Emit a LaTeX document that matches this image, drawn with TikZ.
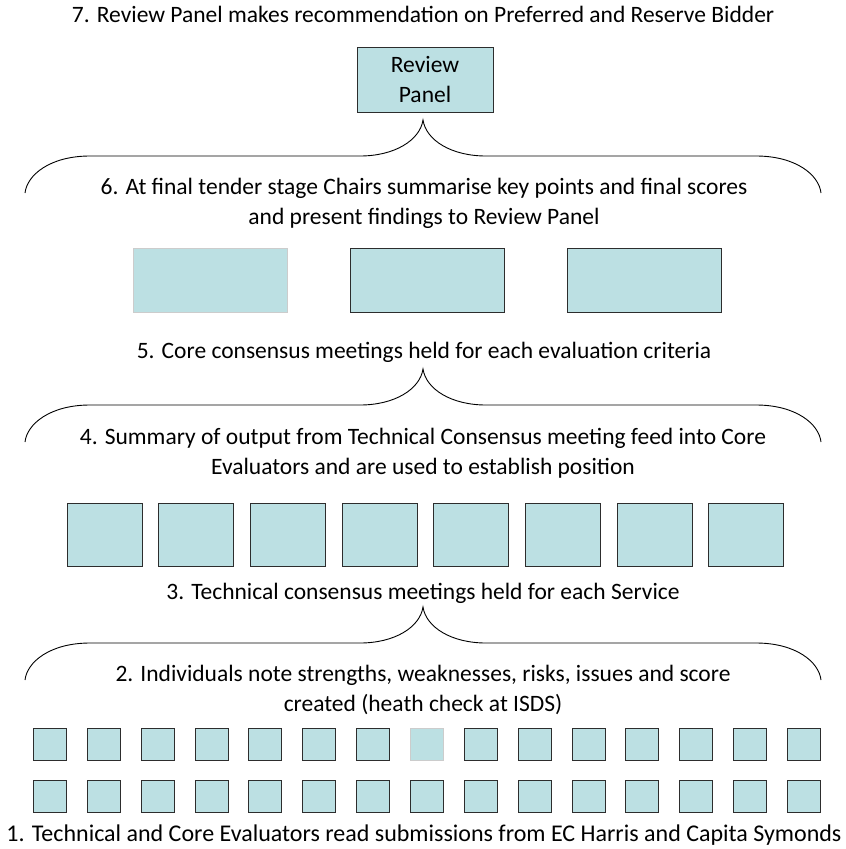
\documentclass[tikz,border=0pt]{standalone}
\usepackage{fontspec}
\setmainfont{Carlito}
\usetikzlibrary{positioning}
\definecolor{boxteal}{RGB}{188,224,227}
\definecolor{boxline}{RGB}{45,45,45}

\begin{document}
\begin{tikzpicture}[x=1pt, y=-1pt,
	every node/.style={font=\fontsize{23.5}{30}\selectfont},
	tealbox/.style={draw=boxline, line width=1pt, fill=boxteal, inner sep=0pt},
	faintbox/.style={draw=gray!40, line width=0.8pt, fill=boxteal, inner sep=0pt},
	brace line/.style={line width=0.9pt}]
	\useasboundingbox (0,0) rectangle (846,849);

	% step texts
	\node[align=center] (stepseven) at (423,14) {7. Review Panel makes recommendation on Preferred and Reserve Bidder};
	\node[align=center] (stepsix) at (424,203) {6. At final tender stage Chairs summarise key points and final scores\\and present findings to Review Panel};
	\node[align=center] (stepfive) at (424,352) {5. Core consensus meetings held for each evaluation criteria};
	\node[align=center] (stepfour) at (423,453) {4. Summary of output from Technical Consensus meeting feed into Core\\Evaluators and are used to establish position};
	\node[align=center] (stepthree) at (423,593) {3. Technical consensus meetings held for each Service};
	\node[align=center] (steptwo) at (423,689.5) {2. Individuals note strengths, weaknesses, risks, issues and score\\created (heath check at ISDS)};
	\node[align=center, font=\fontsize{24}{30}\selectfont] (stepone) at (424,835) {1. Technical and Core Evaluators read submissions from EC Harris and Capita Symonds};

	% boxes
	\node[tealbox, minimum width=136, minimum height=65, align=center] (panel) at (425,79.5) {Review\\Panel};
	\foreach \i/\x/\s in {1/210/faintbox, 2/427/tealbox, 3/644/tealbox}
		\node[\s, minimum width=154, minimum height=64] (chair\i) at (\x,280) {};
	\foreach \i in {0,...,7}
		\node[tealbox, minimum width=75, minimum height=63] (core\i) at (104.5+91.7*\i,534.5) {};
	\foreach \i in {0,...,14} {
		\ifnum\i=7
			\node[faintbox, minimum width=33, minimum height=32] (tech\i) at (50+53.85*\i,744) {};
		\else
			\node[tealbox, minimum width=33, minimum height=32] (tech\i) at (50+53.85*\i,744) {};
		\fi
		\node[tealbox, minimum width=33, minimum height=32] (read\i) at (50+53.85*\i,796.5) {};
	}

	% braces
	\foreach \t in {120,369,607}
		\draw[brace line] (25,\t+73) .. controls (27,\t+55) and (50,\t+36) .. (90,\t+36) -- (360,\t+36)
			.. controls (395,\t+36) and (420,\t+20) .. (423,\t)
			.. controls (426,\t+20) and (451,\t+36) .. (486,\t+36) -- (756,\t+36)
			.. controls (796,\t+36) and (819,\t+55) .. (821,\t+73);
\end{tikzpicture}
\end{document}
